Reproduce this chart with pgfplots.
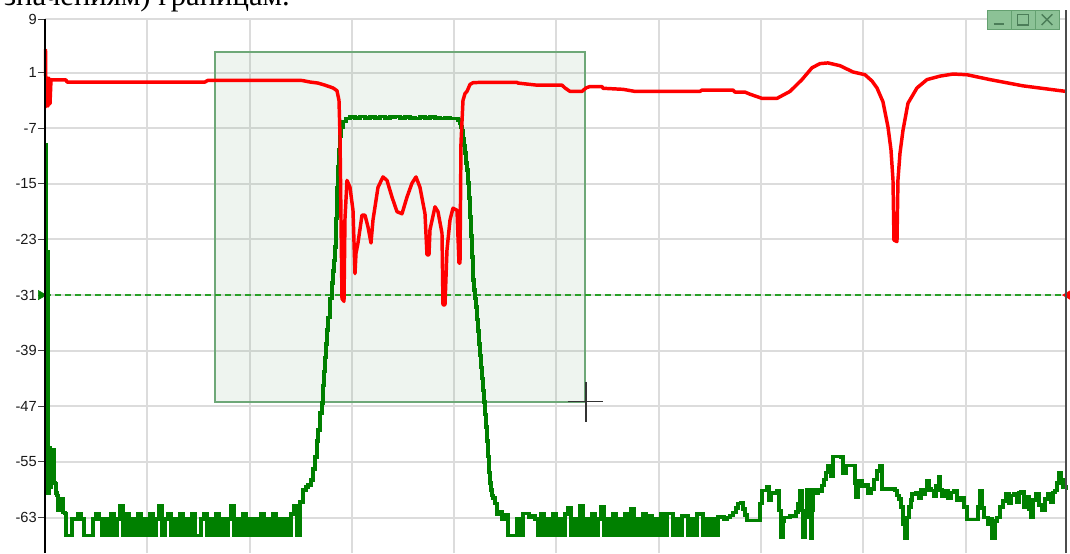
\documentclass[border=0pt]{standalone}
\usepackage{pgfplots}
\pgfplotsset{compat=1.18}
\usepackage{fontspec}
\setmainfont{Liberation Sans}
\newfontfamily\serifru{Liberation Serif}
\definecolor{tracered}{RGB}{255,0,0}
\definecolor{tracegreen}{RGB}{0,128,0}
\definecolor{gridgray}{RGB}{220,220,220}
\definecolor{dashgreen}{RGB}{40,160,40}
\definecolor{boxedge}{RGB}{110,168,120}
\definecolor{boxtint}{RGB}{120,170,130}
\definecolor{btnfill}{RGB}{140,194,150}
\definecolor{btnedge}{RGB}{100,160,112}
\definecolor{btnglyph}{RGB}{75,125,88}
\begin{document}
\begin{tikzpicture}[x=1pt,y=1pt]
\useasboundingbox (-33.75,0) rectangle (768.75,414.75);
\clip (-33.75,0) rectangle (768.75,414.75);
\node[anchor=base east, font=\serifru\fontsize{23}{26}\selectfont, inner sep=0pt] at (183.75,410.5) {значениям) границам.};
\begin{axis}[
  at={(0,0)}, anchor=south west, scale only axis,
  width=766.1pt, height=400.3pt,
  xmin=45, xmax=1066.5, ymin=-68.1, ymax=8.68,
  axis line style={draw=none},
  xtick={147.3,249.6,351.9,454.2,556.5,658.8,761.1,863.4,965.7},
  xticklabels={}, xtick style={draw=none},
  ytick={8.68,1,-7,-15,-23,-31,-39,-47,-55,-63},
  yticklabels={9,1,-7,-15,-23,-31,-39,-47,-55,-63},
  ytick pos=left, tick align=outside, major tick length=5pt,
  ytick style={draw=black!75, line width=0.8pt},
  yticklabel style={font=\fontsize{11}{12}\selectfont, text=black!90, inner sep=1pt},
  grid=major, major grid style={draw=gridgray, line width=1.5pt},
  clip=false,
]
% selection rectangle
\addplot[draw=boxedge, line width=1.1pt, fill=boxtint, fill opacity=0.13] coordinates {(215,3.98) (585,3.98) (585,-46.4) (215,-46.4)} -- cycle;
% threshold line
\addplot[dashgreen, line width=1pt, dash pattern=on 4.5pt off 3pt] coordinates {(45,-31) (1066.5,-31)};
% green trace
\addplot[tracegreen, line width=2.7pt, const plot, line join=miter] coordinates {
(45.5,-9.4)(46,-53)(47,-24.7)(48,-59.5)(49,-53)(50,-58.6)(51,-53.2)(53,-53.2)(54,-58)(55,-58.1)(56,-59.5)(57,-59.8)(58,-62)(60,-60.5)(62,-60.3)(63,-62.3)(65,-62.4)
(66,-65.6)(69,-65.6)(72,-63.2)(75,-63.2)(78,-62.5)(81,-63.2)(84,-65.6)(87,-65.6)(90,-65.6)(93,-63.2)(96,-62.5)(99,-63.2)(102,-65.6)(105,-63.2)(108,-65.6)(111,-62.5)(114,-65.6)(117,-63.2)(120,-61.3)(123,-65.6)(126,-62.5)(129,-65.6)(132,-63.2)(135,-65.6)(138,-62.5)(141,-65.6)(144,-63.2)(147,-65.6)(150,-62.5)(153,-65.6)(156,-63.2)(159,-61.3)(162,-65.6)(165,-63.2)(168,-62.5)(171,-65.6)(174,-63.2)(177,-65.6)(180,-62.5)(183,-65.6)(186,-63.2)(189,-65.6)(192,-62.5)(195,-65.6)(198,-65.6)(201,-63.2)(204,-62.5)(207,-65.6)(210,-63.2)(213,-65.6)(216,-62.5)(219,-65.6)(222,-63.2)(225,-65.6)(228,-63.2)(231,-61.3)(234,-65.6)(237,-63.2)(240,-65.6)(243,-62.5)(246,-65.6)(249,-63.2)(252,-65.6)(255,-63.2)(258,-65.6)(261,-62.5)(264,-65.6)(267,-63.2)(270,-65.6)(273,-62.5)(276,-65.6)(279,-63.2)(282,-65.6)(285,-63.2)(288,-65.6)(291,-62.5)(294,-61.3)(297,-65.6)(300,-60.8)
(303,-59)(306,-58.6)(308,-58.3)(311,-57.6)(313,-56)(315,-54.3)(317,-52)(318,-50.4)(320,-48)(322,-46.5)(323,-44)(324,-42)(325,-40)(326,-38)(327,-36)(328,-34.2)(330,-31.5)(332,-29.3)(333,-27.5)(334,-26)(335,-24.1)(336,-20)(337,-15.5)(338,-12.5)(339,-10.1)(340,-8.2)(341,-6.8)(343,-6.0)(346,-5.6)
(350,-5.4)(355,-5.5)(360,-5.3)(365,-5.5)(370,-5.4)(375,-5.5)(380,-5.3)(385,-5.5)(390,-5.4)(395,-5.3)(400,-5.5)(405,-5.4)(410,-5.5)(415,-5.6)(420,-5.4)(425,-5.5)(430,-5.4)(435,-5.5)(440,-5.6)(445,-5.5)(450,-5.6)(455,-5.6)(458,-5.8)
(460,-6.3)(461,-6.8)(462,-7.3)(463,-8.5)(464,-9.5)(465,-10.6)(466,-12)(467,-13)(468,-14.9)(469,-17)(470,-19.8)(471,-22.5)(472,-25.5)(473,-28.8)(474,-30.3)(475,-31.5)(476,-32.7)(477,-34.5)(478,-36.2)(479,-38)(480,-39.7)(481,-41.4)(482,-43)(483,-44.7)(484,-46.4)(485,-48.2)(486,-50)(487,-52)(488,-54.2)(489,-56.5)(490,-58)(491,-59)(492,-59.8)(493,-60.2)(495,-61)(497,-62.5)
(499,-62.2)(502,-63.2)(505,-62.6)(508,-65.6)(511,-65.6)(514,-65.6)(517,-63.2)(520,-65.6)(523,-62.4)(526,-62.4)(529,-63)(532,-62.8)(535,-63.2)(538,-65.6)(541,-62.5)(544,-65.6)(547,-63.2)(550,-65.6)(553,-62.5)(556,-65.6)(559,-63.2)(562,-65.6)(565,-62.5)(568,-61.6)(571,-65.6)(574,-63.2)(577,-65.6)(580,-61.3)(583,-65.6)(586,-63.2)(589,-65.6)(592,-62.5)(595,-65.6)(598,-63.2)(601,-61.5)(604,-65.6)(607,-63.2)(610,-65.6)(613,-62.5)(616,-65.6)(619,-63.2)(622,-65.6)(625,-62.5)(628,-65.6)(631,-61.8)(634,-65.6)(637,-63.2)(640,-65.6)(643,-62.5)(646,-65.6)(649,-62.8)(652,-65.6)(655,-63.2)(658,-65.6)(661,-62.5)(664,-65.6)(667,-62.4)(670,-62.4)(673,-65.6)(676,-63.2)(679,-65.6)(682,-62.8)(685,-62.8)(688,-65.6)(691,-63.2)(694,-65.6)(697,-62.5)(700,-62.5)(703,-65.6)(706,-63.2)(709,-65.6)(712,-63.2)(715,-65.6)(718,-62.9)(721,-62.9)(724,-63.2)(727,-63.0)(730,-62.7)(733,-62.3)(736,-61.6)(738,-61.0)(741,-60.9)(743,-61.8)(745,-62.6)(747,-63.4)(758,-63.4)
(760,-61)(762,-59.1)(767,-58.6)(769,-60.5)(771,-59.5)(777,-59.1)(779,-62)(781,-65.8)(783,-63.5)(784,-63)(790,-62.8)(796,-62.2)(798,-61)(800,-59.2)(802,-62)(803,-65.8)(805,-62)(807,-59)(809,-63)(811,-66)(812,-62)(813,-59)(816,-59.5)(818,-59)(820,-59.2)(822,-58.4)(824,-57.5)(826,-56.5)(828,-55.6)(830,-56.2)(831,-57)(833,-54.2)(841,-54.3)(843,-56.6)(846,-55.5)(854,-55.5)(855,-58)(856,-60.1)(858,-57.7)(862,-58.5)(866,-58.3)(868,-59.5)(871,-58.9)(874,-57.5)(877,-56.3)(880,-55.5)(882,-58.9)(895,-59.1)(897,-59.8)(899,-60.3)(901,-61.5)(903,-64)(905,-66)(907,-63)(909,-61.5)(911,-60.5)(912,-59.6)(916,-59.4)(919,-60.2)(921,-59)(924,-59.6)(925,-59.1)(927,-57.7)(929,-58.8)(931,-59.1)(934,-60)(936,-58.4)(939,-57.2)(940,-59)(942,-59.9)(945,-59.2)(948,-60.2)(951,-59.4)(954,-59.1)(957,-60.5)(961,-60.1)(964,-61.5)(967,-63.3)(976,-63.3)(978,-61.5)(980,-59.1)(982,-61.6)(984,-63)(986,-63)(988,-64)(990,-63.2)(992,-66)(993,-66)(995,-63.5)(997,-63)(1000,-61.5)(1003,-60.6)(1006,-59.6)(1009,-61)(1011,-59.8)(1014,-59.6)(1017,-60.8)(1019,-59.5)(1021,-59.3)(1024,-61.5)(1027,-60)(1029,-61.8)(1031,-63)(1033,-60.5)(1036,-59.6)(1039,-61.2)(1042,-62)(1045,-60.3)(1048,-59.6)(1051,-60.8)(1053,-59.4)(1055,-59.1)(1057,-58)(1059,-56.6)(1061,-57.5)(1063,-58.6)(1066.5,-59.1)
};
% red trace
\addplot[tracered, line width=2.6pt, line join=round] coordinates {
(45.5,4.4)(46,-3.9)(47,0.3)(48,-3.8)(49,0.2)(50,-3.5)(51,0.0)(52,-0.05)(66,-0.05)(67,-0.35)(205,-0.35)(208,-0.1)(300,-0.1)(303,-0.15)(310,-0.35)(318,-0.5)(325,-0.8)(333,-1.2)(337,-1.6)(339,-3)
(340,-8)(341,-20)(342,-31.5)(344,-31.9)(345,-20)(347,-14.5)(350,-15.5)(353,-18.8)(355,-27.9)(356,-25)(358,-23.5)(362,-19.5)(365,-19.5)(368,-21.2)(371,-23.5)(373,-20.2)(378,-15.5)(383,-14)(387,-14.5)(392,-16.9)(397,-19)(402,-19.3)(407,-16.9)(412,-14.9)(416,-14)(420,-15.5)(425,-19.3)(427,-25.2)(429,-25.2)(430,-21.6)(435,-18.3)(438,-19)(442,-22.1)(443,-32.4)(445,-32.4)(447,-24.5)(450,-20.2)(453,-18.5)(457,-18.8)(459,-26.4)(460,-26.4)(461,-9.1)(463,-3)
(465,-2)(467,-1.7)(470,-0.7)(473,-0.45)(480,-0.4)(517,-0.4)(518,-0.5)(537,-0.8)(562,-0.8)(565,-1.2)(570,-1.7)(582,-1.7)(586,-1.2)(590,-1.0)(602,-1.0)(603,-1.25)(623,-1.4)(635,-1.7)(700,-1.7)(702,-1.5)(733,-1.5)(735,-1.8)(745,-1.8)(750,-2.1)(762,-2.7)(777,-2.7)
(790,-1.7)(802,0)(812,1.7)(820,2.3)(828,2.4)(840,2.0)(853,1.1)(865,0.7)(872,-0.2)(877,-1.2)(883,-3.2)(888,-6.8)(891,-10.1)(893,-14.4)(894,-23.1)(897,-23.3)(898,-14.4)(900,-10.6)(903,-7.3)(908,-3.4)(917,-1.2)(927,0)(940,0.5)(953,0.8)(967,0.7)(990,0)(1023,-0.9)(1066,-1.7)
};
% threshold markers
\addplot[only marks, mark=triangle*, mark size=4pt, mark options={rotate=-90, fill=tracegreen, draw=tracegreen}] coordinates {(41,-31)};
\addplot[only marks, mark=triangle*, mark size=4pt, mark options={rotate=90, fill=tracered, draw=tracered}] coordinates {(1068,-31)};
% cursor
\addplot[black!80, line width=1.4pt] coordinates {(567.7,-46.3) (603.3,-46.3)};
\addplot[black!80, line width=1.4pt] coordinates {(586,-43.5) (586,-49.2)};
\end{axis}
% axis frame lines
\draw[black, line width=1.1pt] (0,0) -- (0,400.3);
\draw[black!70, line width=1.5pt] (766.1,0) -- (766.1,407.25);
% window buttons
\foreach \i in {0,1,2} {
  \draw[btnedge, fill=btnfill, line width=0.6pt] (706.5+18*\i,393) rectangle ++(18,14.25);
}
\draw[btnglyph, line width=1.6pt] (711.5,396.5) -- (719.5,396.5);
\draw[btnglyph, line width=1.1pt] (729.5,396) rectangle (737.5,404);
\draw[btnglyph, line width=1.1pt] (747.5,396) -- (755.5,404) (747.5,404) -- (755.5,396);
\end{tikzpicture}
\end{document}
